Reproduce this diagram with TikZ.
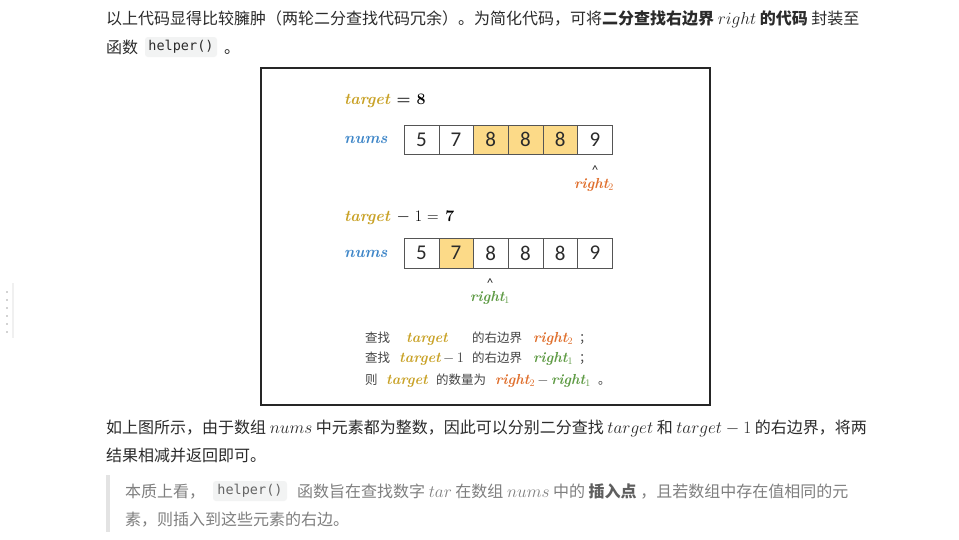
\documentclass[tikz,border=0pt]{standalone}
\usepackage{fontspec}
\usepackage{amsmath}
\usepackage{tikz}
\usetikzlibrary{positioning}
\newfontfamily\cjk{Noto Sans CJK SC}
\newfontfamily\numf{Carlito}
\newfontfamily\codef{DejaVu Sans Mono}
\definecolor{txtc}{HTML}{2B2B2B}
\definecolor{quotec}{HTML}{7F7F7F}
\definecolor{codebg}{HTML}{F2F3F3}
\definecolor{barc}{HTML}{E3E3E3}
\definecolor{tgtc}{HTML}{C9A227}
\definecolor{nmsc}{HTML}{3E86C8}
\definecolor{rtwoc}{HTML}{E0702E}
\definecolor{ronec}{HTML}{5F9B45}
\definecolor{cellfill}{HTML}{FCDA88}
\definecolor{cellline}{HTML}{555555}
\definecolor{notec}{HTML}{444444}

\begin{document}
\begin{tikzpicture}[x=1pt,y=-1pt,
  para/.style={anchor=base west,inner sep=0pt,text=txtc,font=\cjk\fontsize{16}{16}\selectfont},
  code/.style={fill=codebg,rounded corners=3pt,inner xsep=0pt,inner ysep=0pt,minimum height=20pt,font=\codef\fontsize{13.5}{13.5}\selectfont},
  cell/.style={draw=cellline,minimum width=34.7pt,minimum height=29.5pt,inner sep=0pt,text=txtc,font=\numf\fontsize{21}{21}\selectfont},
  hit/.style={cell,fill=cellfill},
  var/.style={inner sep=0pt,font=\bfseries\itshape\fontsize{14.5}{14.5}\selectfont},
  big/.style={var,font=\bfseries\itshape\fontsize{16}{16}\selectfont},
  note/.style={anchor=base west,inner sep=0pt,text=notec,font=\cjk\fontsize{12.5}{12.5}\selectfont}]
  \useasboundingbox (0,0) rectangle (959,539);
  \fill[white] (0,0) rectangle (959,539);
  % 侧栏拖动条
  \draw[black!6,line width=1.5pt] (13,283) -- (13,338);
  \foreach \k in {0,...,5} \fill[black!35] (7,{292+8*\k}) circle (0.9);
  % 正文 1
  \node[para] (p1) at (106,24) {以上代码显得比较臃肿（两轮二分查找代码冗余）。为简化代码，可将\textbf{二分查找右边界} $right$ \textbf{的代码} 封装至};
  \node[para] (p2) at (106,53) {函数};
  \node[code,text=txtc,minimum width=72pt] (h1) at (181,47) {helper()};
  \node[para] (p3) at (224,53) {。};
  % 图
  \draw[line width=1.4pt,black!85] (261,68) rectangle (710,405);
  \node[big,anchor=west] (t1) at (344,101) {{\color{tgtc}target} \upshape= 8};
  \node[big,anchor=west,text=nmsc] (n1) at (344,140) {nums};
  \foreach \v/\s [count=\i] in {5/cell,7/cell,8/hit,8/hit,8/hit,9/cell}
    \node[\s] (a\i) at ({404+34.7*(\i-0.5)},139.5) {\v};
  \node[inner sep=0pt,font=\numf\fontsize{13}{13}\selectfont,text=txtc] (c2) at (595,170) {\textasciicircum};
  \node[var,text=rtwoc] (r2) at (594,185) {right$_2$};
  \node[big,anchor=west] (t2) at (344,218) {{\color{tgtc}target} {\upshape\mdseries$-$\ 1 =} \upshape7};
  \node[big,anchor=west,text=nmsc] (n2) at (344,254) {nums};
  \foreach \v/\s [count=\i] in {5/cell,7/hit,8/cell,8/cell,8/cell,9/cell}
    \node[\s] (b\i) at ({404+34.7*(\i-0.5)},253) {\v};
  \node[inner sep=0pt,font=\numf\fontsize{13}{13}\selectfont,text=txtc] (c1) at (490,283) {\textasciicircum};
  \node[var,text=ronec] (r1) at (490,298) {right$_1$};
  % 说明
  \node[note] (q11) at (365,342) {查找};
  \node[var,anchor=base west,text=tgtc] (q12) at (406,342) {target};
  \node[note] (q13) at (472,342) {的右边界};
  \node[var,anchor=base west,text=rtwoc] (q14) at (533,342) {right$_2$};
  \node[note] (q15) at (579,342) {；};
  \node[note] (q21) at (365,362) {查找};
  \node[var,anchor=base west,text=tgtc] (q22) at (399,362) {target\,{\upshape\mdseries\color{notec}$-$\,1}};
  \node[note] (q23) at (472,362) {的右边界};
  \node[var,anchor=base west,text=ronec] (q24) at (533,362) {right$_1$};
  \node[note] (q25) at (579,362) {；};
  \node[note] (q31) at (365,384) {则};
  \node[var,anchor=base west,text=tgtc] (q32) at (386,384) {target};
  \node[note] (q33) at (436,384) {的数量为};
  \node[var,anchor=base west,text=rtwoc] (q34) at (495,384) {right$_2${\upshape\mdseries\color{notec}$\,-\,$}{\color{ronec}right$_1$}};
  \node[note] (q35) at (598,384) {。};
  % 正文 2
  \node[para] (p4) at (106,433) {如上图所示，由于数组 $nums$ 中元素都为整数，因此可以分别二分查找 $target$ 和 $target-1$ 的右边界，将两};
  \node[para] (p5) at (106,461) {结果相减并返回即可。};
  % 引用块
  \fill[barc] (106,475) rectangle (110,532);
  \node[para,text=quotec] (s1) at (125,497) {本质上看，};
  \node[code,text=quotec!80!black,minimum width=74pt] (h2) at (250,491) {helper()};
  \node[para,text=quotec] (s2) at (297,497) {函数旨在查找数字 $tar$ 在数组 $nums$ 中的 {\color{quotec!75!black}\textbf{插入点}} ，且若数组中存在值相同的元};
  \node[para,text=quotec] (s3) at (125,525) {素，则插入到这些元素的右边。};
\end{tikzpicture}
\end{document}
